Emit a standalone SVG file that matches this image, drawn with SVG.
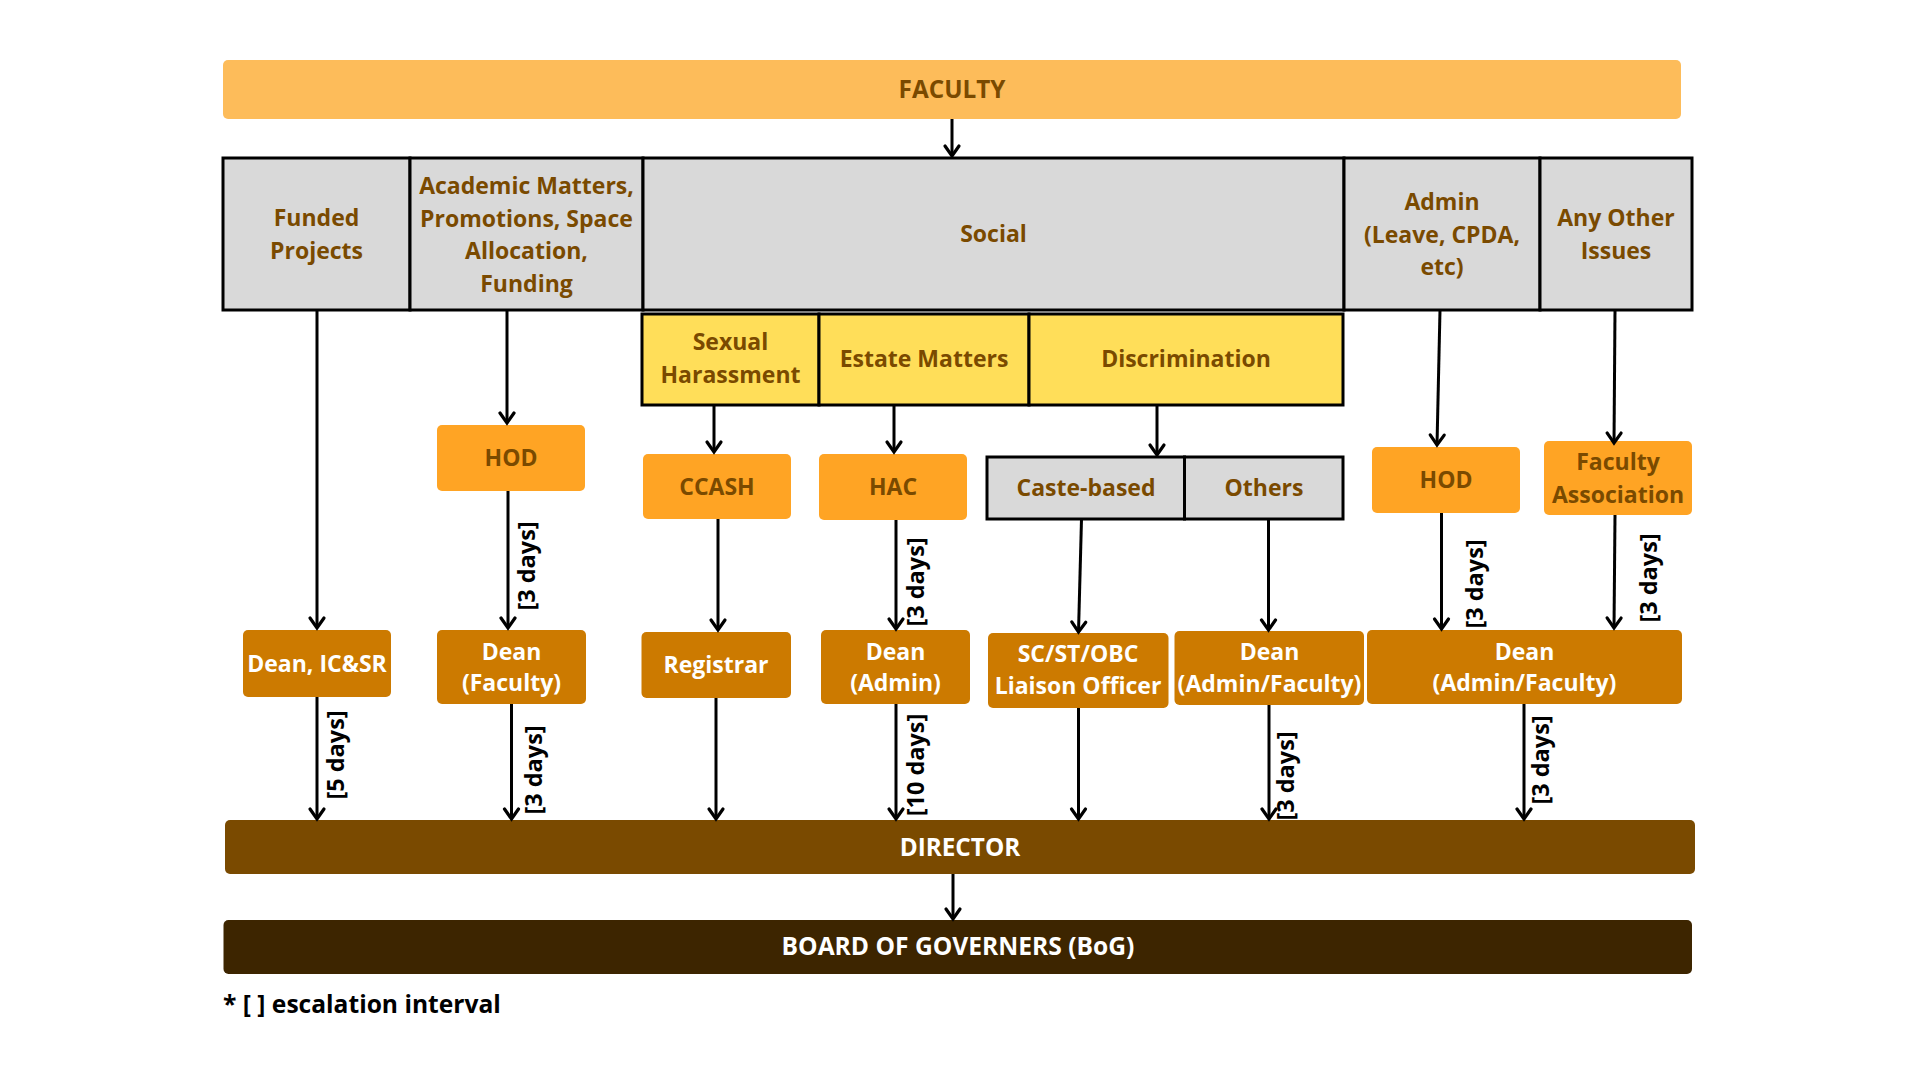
<svg xmlns="http://www.w3.org/2000/svg" width="1920" height="1080" viewBox="0 0 1920 1080">
<defs>
<marker id="ah" viewBox="-12 -9 14 18" markerWidth="14" markerHeight="18" markerUnits="userSpaceOnUse" refX="0" refY="0" orient="auto" overflow="visible">
<path d="M-10,-7 L0,0 L-10,7" fill="none" stroke="#000" stroke-width="3.2" stroke-linecap="round" stroke-linejoin="miter"/>
</marker>
<style>
text{font-family:"Open Sans","Liberation Sans",sans-serif;font-weight:700;font-size:23px;text-anchor:middle}
.br{fill:#7A4A00}
.wh{fill:#FFFFFF}
.cap{font-size:24.3px}
.cell{fill:#D9D9D9;stroke:#000;stroke-width:3}
.yel{fill:#FFDE59;stroke:#000;stroke-width:3}
.org{fill:#FFA424}
.dk{fill:#CC7A00}
.cn line{stroke:#000;stroke-width:3;marker-end:url(#ah)}
.lbl{fill:#000;font-size:23.5px;font-weight:700}
</style>
</defs>
<rect width="1920" height="1080" fill="#FFFFFF"/>

<g id="faculty"><rect x="223" y="60" width="1458" height="59" rx="5" fill="#FDBC5A"/><text class="br cap" x="952" y="98">FACULTY</text></g>

<g id="funded"><rect class="cell" x="223" y="158" width="187" height="152"/><text class="br" x="316.5" y="226">Funded</text><text class="br" x="316.5" y="259">Projects</text></g>
<g id="academic"><rect class="cell" x="410" y="158" width="233" height="152"/><text class="br" x="526.5" y="194">Academic Matters,</text><text class="br" x="526.5" y="226.5">Promotions, Space</text><text class="br" x="526.5" y="259">Allocation,</text><text class="br" x="526.5" y="291.5">Funding</text></g>
<g id="social"><rect class="cell" x="643" y="158" width="701" height="152"/><text class="br" x="993.5" y="242">Social</text></g>
<g id="admin"><rect class="cell" x="1344" y="158" width="196" height="152"/><text class="br" x="1442" y="210">Admin</text><text class="br" x="1442" y="242.5">(Leave, CPDA,</text><text class="br" x="1442" y="275">etc)</text></g>
<g id="other"><rect class="cell" x="1540" y="158" width="152" height="152"/><text class="br" x="1616" y="226">Any Other</text><text class="br" x="1616" y="258.5">Issues</text></g>

<g id="sexual"><rect class="yel" x="642" y="314" width="177" height="91"/><text class="br" x="730.5" y="350">Sexual</text><text class="br" x="730.5" y="383">Harassment</text></g>
<g id="estate"><rect class="yel" x="819" y="314" width="210" height="91"/><text class="br" x="924" y="367">Estate Matters</text></g>
<g id="discrimination"><rect class="yel" x="1029" y="314" width="314" height="91"/><text class="br" x="1186" y="367">Discrimination</text></g>

<g id="hod1"><rect class="org" x="437" y="425" width="148" height="66" rx="5"/><text class="br" x="511" y="466">HOD</text></g>
<g id="ccash"><rect class="org" x="643" y="454" width="148" height="65" rx="5"/><text class="br" x="717" y="495">CCASH</text></g>
<g id="hac"><rect class="org" x="819" y="454" width="148" height="66" rx="5"/><text class="br" x="893" y="495">HAC</text></g>
<g id="caste"><rect class="cell" x="987" y="457" width="197.5" height="62"/><text class="br" x="1086" y="496">Caste-based</text></g>
<g id="others"><rect class="cell" x="1184.5" y="457" width="158.5" height="62"/><text class="br" x="1264" y="496">Others</text></g>
<g id="hod2"><rect class="org" x="1372" y="447" width="148" height="66" rx="5"/><text class="br" x="1446" y="488">HOD</text></g>
<g id="facassoc"><rect class="org" x="1544" y="441" width="148" height="74" rx="5"/><text class="br" x="1618" y="470">Faculty</text><text class="br" x="1618" y="503">Association</text></g>

<g id="deanicsr"><rect class="dk" x="243" y="630" width="148" height="67" rx="5"/><text class="wh" x="317" y="672">Dean, IC&amp;SR</text></g>
<g id="deanfac"><rect class="dk" x="437" y="630" width="149" height="74" rx="5"/><text class="wh" x="511.5" y="660">Dean</text><text class="wh" x="511.5" y="691">(Faculty)</text></g>
<g id="registrar"><rect class="dk" x="641.5" y="632" width="149.5" height="66" rx="5"/><text class="wh" x="716" y="673">Registrar</text></g>
<g id="deanadmin"><rect class="dk" x="821" y="630" width="149" height="74" rx="5"/><text class="wh" x="895.5" y="660">Dean</text><text class="wh" x="895.5" y="691">(Admin)</text></g>
<g id="scst"><rect class="dk" x="988" y="633" width="180.5" height="75" rx="5"/><text class="wh" x="1078" y="662">SC/ST/OBC</text><text class="wh" x="1078" y="694">Liaison Officer</text></g>
<g id="deanaf1"><rect class="dk" x="1174.5" y="631" width="189.5" height="74" rx="5"/><text class="wh" x="1269.5" y="660">Dean</text><text class="wh" x="1269.5" y="692">(Admin/Faculty)</text></g>
<g id="deanaf2"><rect class="dk" x="1367" y="630" width="315" height="74" rx="5"/><text class="wh" x="1524.5" y="660">Dean</text><text class="wh" x="1524.5" y="691">(Admin/Faculty)</text></g>

<g id="director"><rect x="225" y="820" width="1470" height="54" rx="5" fill="#7A4A00"/><text class="wh cap" x="960" y="856">DIRECTOR</text></g>
<g id="bog"><rect x="223.5" y="920" width="1468.5" height="54" rx="5" fill="#3D2500"/><text class="wh" style="font-size:24.6px" x="958" y="955">BOARD OF GOVERNERS (BoG)</text></g>

<g id="connectors" class="cn">
<line x1="952" y1="119" x2="952" y2="156"/>
<line x1="317" y1="310" x2="317" y2="628"/>
<line x1="507" y1="310" x2="507" y2="423"/>
<line x1="714" y1="405" x2="714" y2="452"/>
<line x1="894" y1="405" x2="894" y2="452"/>
<line x1="1157" y1="405" x2="1157" y2="455"/>
<line x1="1440" y1="310" x2="1437" y2="445"/>
<line x1="1615" y1="310" x2="1614" y2="443"/>
<line x1="508" y1="491" x2="508" y2="628"/>
<line x1="718" y1="519" x2="718" y2="630"/>
<line x1="896" y1="520" x2="896" y2="629"/>
<line x1="1081.5" y1="519" x2="1078.5" y2="632"/>
<line x1="1268.5" y1="519" x2="1268.5" y2="630"/>
<line x1="1441.5" y1="513" x2="1441.5" y2="629"/>
<line x1="1615" y1="515" x2="1614" y2="628"/>
<line x1="317" y1="697" x2="317" y2="819"/>
<line x1="511.5" y1="704" x2="511.5" y2="819"/>
<line x1="716" y1="698" x2="716" y2="819"/>
<line x1="896" y1="704" x2="896" y2="819"/>
<line x1="1078.5" y1="708" x2="1078.5" y2="819"/>
<line x1="1269" y1="705" x2="1269" y2="819"/>
<line x1="1524" y1="704" x2="1524" y2="819"/>
<line x1="953" y1="874" x2="953" y2="919"/>
</g>

<g id="labels">
<text class="lbl" transform="translate(535,566) rotate(-90)">[3 days]</text>
<text class="lbl" transform="translate(344,755) rotate(-90)">[5 days]</text>
<text class="lbl" transform="translate(542,770) rotate(-90)">[3 days]</text>
<text class="lbl" transform="translate(924,582) rotate(-90)">[3 days]</text>
<text class="lbl" transform="translate(924,765) rotate(-90)">[10 days]</text>
<text class="lbl" transform="translate(1294,776) rotate(-90)">[3 days]</text>
<text class="lbl" transform="translate(1483,584) rotate(-90)">[3 days]</text>
<text class="lbl" transform="translate(1657,578) rotate(-90)">[3 days]</text>
<text class="lbl" transform="translate(1549,760) rotate(-90)">[3 days]</text>
</g>

<text id="footnote" x="223" y="1013" style="text-anchor:start;fill:#000;font-size:24.6px">* [ ] escalation interval</text>
</svg>
